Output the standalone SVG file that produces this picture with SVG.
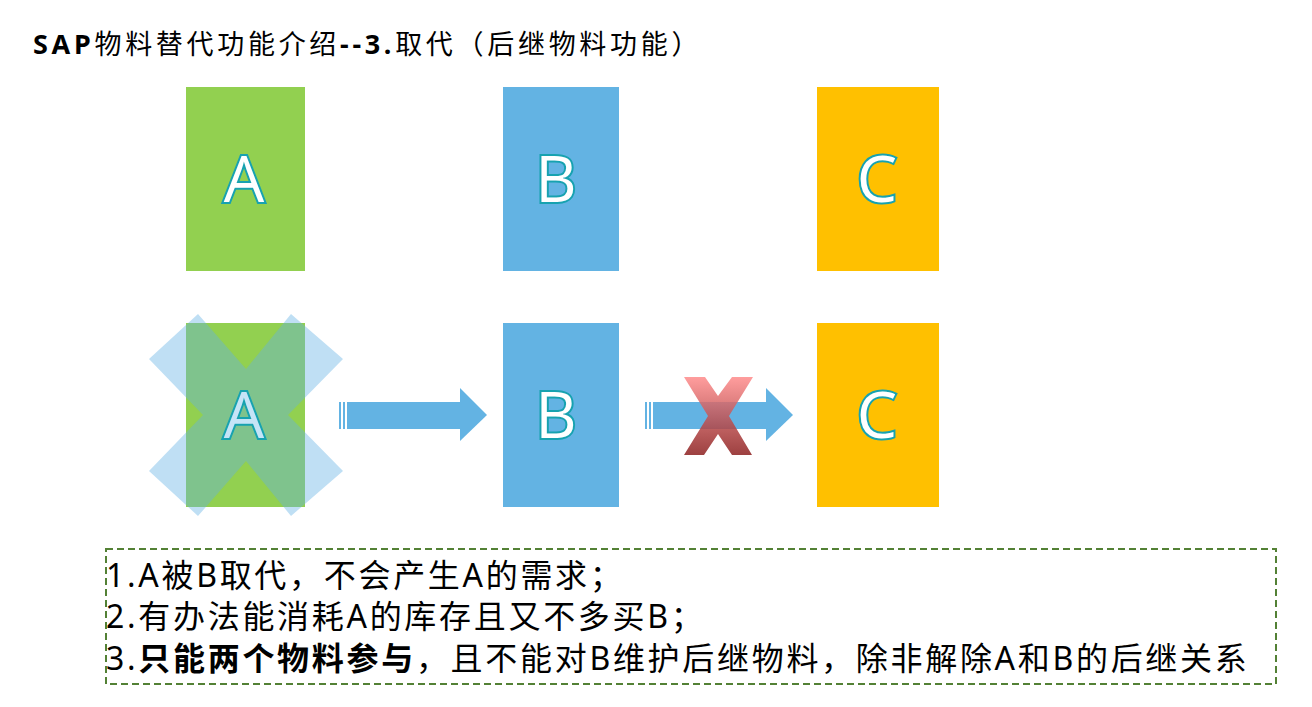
<svg xmlns="http://www.w3.org/2000/svg" width="1312" height="707" viewBox="0 0 1312 707">
<style>
.t{font-family:"Noto Sans","Noto Sans CJK SC",sans-serif;fill:#000}
.L{font-family:"Open Sans","Noto Sans",sans-serif;font-size:64px;fill:#fff;stroke:#17a2b0;stroke-width:4;paint-order:stroke;text-anchor:middle}
.arr{fill:#63b3e3}
</style>
<defs>
<linearGradient id="rg" x1="0" y1="0" x2="0" y2="1"><stop offset="0" stop-color="#ff8c8c"/><stop offset="1" stop-color="#8c1f1f"/></linearGradient>
</defs>
<rect width="1312" height="707" fill="#fff"/>
<text class="t" x="33" y="54" font-size="27" letter-spacing="3.7"><tspan font-weight="bold">SAP</tspan>物料替代功能介绍<tspan font-weight="bold">--3.</tspan>取代（后继物料功能）</text>
<g id="A1"><rect x="186" y="87" width="119" height="184" fill="#92d050"/><text class="L" x="244" y="202">A</text></g>
<g id="B1"><rect x="503" y="87" width="116" height="184" fill="#63b3e3"/><text class="L" x="556" y="202">B</text></g>
<g id="C1"><rect x="817" y="87" width="122" height="184" fill="#ffc000"/><text class="L" x="877" y="202">C</text></g>
<g id="A2"><rect x="186" y="323" width="119" height="184" fill="#92d050"/>
<polygon points="198,314 246,369 291,314 343,359 288,415 343,471 291,516 246,461 198,516 149,471 203,415 149,359" fill="#64b1e4" opacity="0.41"/>
<text class="L" x="244" y="438" style="fill:#c5e4f7">A</text></g>
<g id="B2"><rect x="503" y="323" width="116" height="184" fill="#63b3e3"/><text class="L" x="556" y="438">B</text></g>
<g id="C2"><rect x="817" y="323" width="122" height="184" fill="#ffc000"/><text class="L" x="877" y="438">C</text></g>
<g id="connectors">
<g class="arr"><rect x="339" y="402" width="2" height="27"/><rect x="343" y="402" width="2" height="27"/><rect x="347" y="402" width="113" height="27"/><polygon points="460,388 487,415 460,441"/></g>
<g class="arr"><rect x="645" y="402" width="2" height="27"/><rect x="649" y="402" width="2" height="27"/><rect x="653" y="402" width="113" height="27"/><polygon points="766,388 793,415 766,441"/></g>
<polygon points="684,377 705,377 718,396 732,377 753,377 729,416 752,455 732,455 718,434 704,455 684,455 708,416" fill="url(#rg)" opacity="0.85"/>
</g>
<rect x="106" y="549" width="1170" height="135" fill="none" stroke="#538135" stroke-width="2" stroke-dasharray="7,4"/>
<text class="t" x="106" y="587" font-size="32" letter-spacing="2.7">1.A被B取代，不会产生A的需求；</text>
<text class="t" x="106" y="628" font-size="32" letter-spacing="2.7">2.有办法能消耗A的库存且又不多买B；</text>
<text class="t" x="106" y="670" font-size="32" letter-spacing="2.7">3.<tspan font-weight="bold">只能两个物料参与</tspan>，且不能对B维护后继物料，除非解除A和B的后继关系</text>
</svg>
